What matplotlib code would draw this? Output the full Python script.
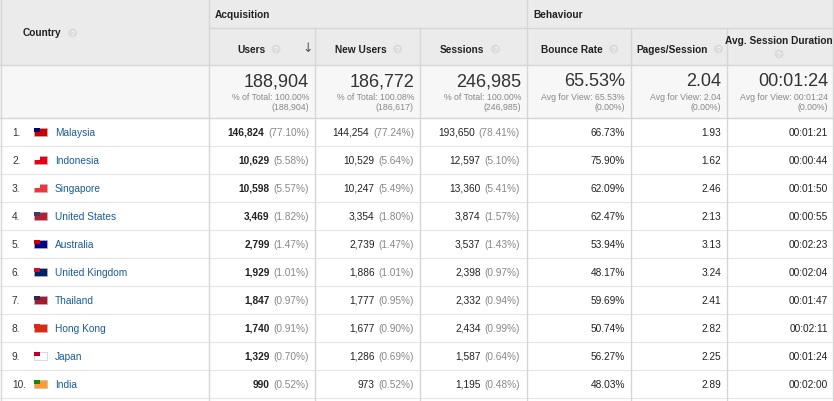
import matplotlib
matplotlib.use("Agg")
import matplotlib.pyplot as plt
from matplotlib.patches import Rectangle

countries = ["Malaysia","Indonesia","Singapore","United States","Australia","United Kingdom","Thailand","Hong Kong","Japan","India"]
users = ["146,824","10,629","10,598","3,469","2,799","1,929","1,847","1,740","1,329","990"]
users_pct = ["77.10%","5.58%","5.57%","1.82%","1.47%","1.01%","0.97%","0.91%","0.70%","0.52%"]
new_users = ["144,254","10,529","10,247","3,354","2,739","1,886","1,777","1,677","1,286","973"]
new_users_pct = ["77.24%","5.64%","5.49%","1.80%","1.47%","1.01%","0.95%","0.90%","0.69%","0.52%"]
sessions = ["193,650","12,597","13,360","3,874","3,537","2,398","2,332","2,434","1,587","1,195"]
sessions_pct = ["78.41%","5.10%","5.41%","1.57%","1.43%","0.97%","0.94%","0.99%","0.64%","0.48%"]
bounce = ["66.73%","75.90%","62.09%","62.47%","53.94%","48.17%","59.69%","50.74%","56.27%","48.03%"]
pages = ["1.93","1.62","2.46","2.13","3.13","3.24","2.41","2.82","2.25","2.89"]
duration = ["00:01:21","00:00:44","00:01:50","00:00:55","00:02:23","00:02:04","00:01:47","00:02:11","00:01:24","00:02:00"]
flag_colors = [("#cc0001","#010066"),("#e70011","#ffffff"),("#ef3340","#ffffff"),("#b22234","#3c3b6e"),
               ("#00008b","#cc0000"),("#012169","#c8102e"),("#a51931","#2d2a4a"),("#de2910","#de2910"),
               ("#ffffff","#bc002d"),("#ff9933","#138808")]

metric_names = ["Users","New Users","Sessions","Bounce Rate","Pages/Session","Avg. Session Duration"]
totals_big = ["188,904","186,772","246,985","65.53%","2.04","00:01:24"]
totals_l1 = ["% of Total: 100.00%","% of Total: 100.08%","% of Total: 100.00%","Avg for View: 65.53%","Avg for View: 2.04","Avg for View: 00:01:24"]
totals_l2 = ["(188,904)","(186,617)","(246,985)","(0.00%)","(0.00%)","(0.00%)"]

plt.rcParams['font.family'] = ['Liberation Sans', 'DejaVu Sans']
fig = plt.figure(figsize=(8.34, 4.02), dpi=100)
ax = fig.add_axes([0, 0, 1, 1])
ax.set_xlim(0, 834); ax.set_ylim(402, 0); ax.axis('off')
renderer = fig.canvas.get_renderer()

def width_px(t):
    bb = t.get_window_extent(renderer=renderer)
    return bb.width

cols = [0, 209, 315, 420, 527, 631, 727, 834]
hdr_bg = "#ebebeb"; line = "#d6d6d6"
ax.add_patch(Rectangle((0, 0), 834, 66, color=hdr_bg, lw=0))
ax.add_patch(Rectangle((0, 66), 834, 53, color="#f7f7f7", lw=0))
ax.add_patch(Rectangle((0, 119), 834, 283, color="white", lw=0))
ax.plot([0, 834], [66, 66], color=line, lw=1)
ax.plot([209, 834], [29, 29], color=line, lw=1)
ax.plot([0, 834], [119, 119], color=line, lw=1)
for i in range(1, 11):
    y = 119 + 28 * i
    ax.plot([0, 834], [y, y], color="#e6e6e6", lw=0.8)
for x in cols[1:-1]:
    top = 0 if x in (209, 527) else 29
    ax.plot([x, x], [top, 402], color=line, lw=1)
ax.plot([0.5, 0.5], [0, 402], color=line, lw=1)
ax.plot([833.5, 833.5], [0, 402], color=line, lw=1)

def qmark(x, y):
    ax.add_patch(plt.Circle((x, y), 4.5, color="#dcdcdc", lw=0))
    ax.text(x, y + 0.3, "?", fontsize=5, color="white", ha="center", va="center")

fs = 7.3
t = ax.text(23, 33, "Country", fontsize=fs, fontweight="bold", color="#222", va="center")
qmark(23 + width_px(t) + 11, 34)
ax.text(215, 15, "Acquisition", fontsize=fs, fontweight="bold", color="#222", va="center")
ax.text(533, 15, "Behaviour", fontsize=fs, fontweight="bold", color="#222", va="center")
name_x = [237, 335, 440, 541, 636, 0]
for j, nm in enumerate(metric_names):
    if j == 5:
        ax.text(779, 41, nm, fontsize=fs, fontweight="bold", color="#222", ha="center", va="center")
        qmark(779, 55)
    else:
        t = ax.text(name_x[j], 50, nm, fontsize=fs, fontweight="bold", color="#222", va="center")
        qmark(name_x[j] + width_px(t) + 11, 50)
ax.text(308, 49, "↓", fontsize=9, color="#555", ha="center", va="center", family="DejaVu Sans")

for j in range(6):
    xr = cols[j + 2] - 6
    ax.text(xr, 82, totals_big[j], fontsize=13, color="#333", ha="right", va="center")
    ax.text(xr, 97, totals_l1[j], fontsize=6.3, color="#888", ha="right", va="center")
    ax.text(xr, 107, totals_l2[j], fontsize=6.3, color="#888", ha="right", va="center")

def pair(xr, y, val, pct, bold=False):
    t = ax.text(xr, y, f"({pct})", fontsize=fs, color="#888", ha="right", va="center")
    w = width_px(t)
    ax.text(xr - w - 4, y, val, fontsize=fs, fontweight="bold" if bold else "normal",
            color="#222", ha="right", va="center")

for i in range(10):
    y = 133 + 28 * i
    ax.text(12, y, f"{i+1}.", fontsize=fs, color="#333", va="center")
    c1, c2 = flag_colors[i]
    ax.add_patch(Rectangle((34, y - 4), 13, 8, facecolor=c1, edgecolor="#bbb", lw=0.4))
    ax.add_patch(Rectangle((34, y - 4), 6, 4, facecolor=c2, lw=0))
    ax.text(55, y, countries[i], fontsize=fs, color="#1a5c99", va="center")
    pair(309, y, users[i], users_pct[i], bold=True)
    pair(414, y, new_users[i], new_users_pct[i])
    pair(520, y, sessions[i], sessions_pct[i])
    ax.text(625, y, bounce[i], fontsize=fs, color="#222", ha="right", va="center")
    ax.text(721, y, pages[i], fontsize=fs, color="#222", ha="right", va="center")
    ax.text(828, y, duration[i], fontsize=fs, color="#222", ha="right", va="center")

fig.savefig("out.png", dpi=100)
